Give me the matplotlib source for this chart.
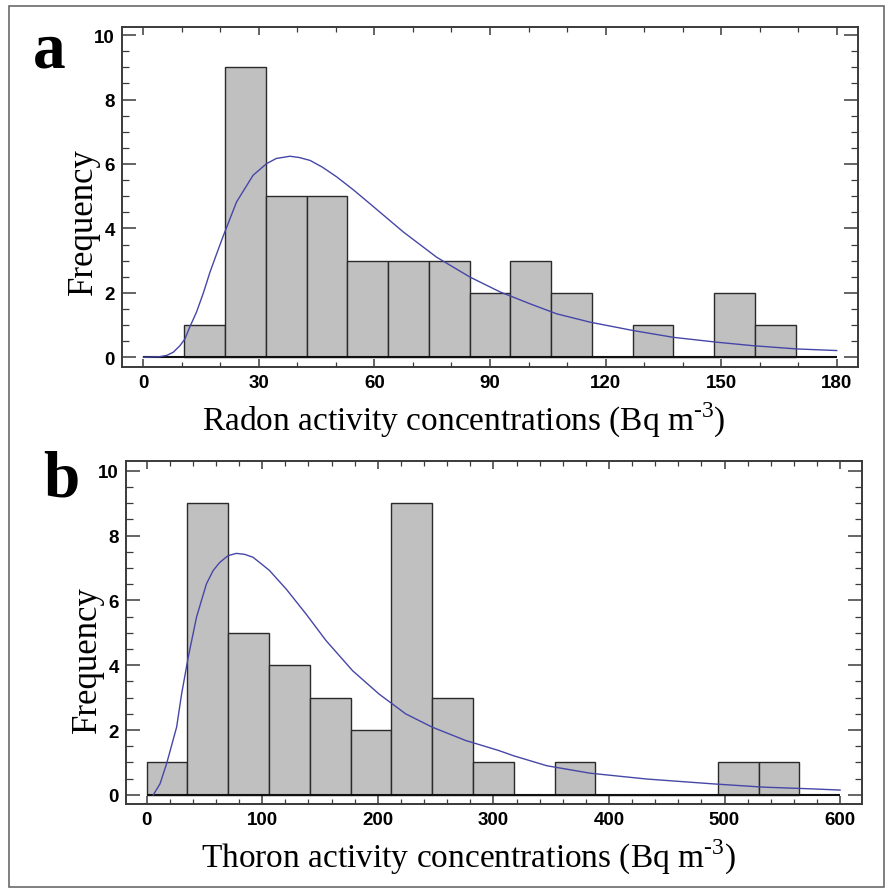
import numpy as np
import matplotlib
matplotlib.use("Agg")
import matplotlib.pyplot as plt
from matplotlib.patches import Rectangle
from matplotlib.ticker import MultipleLocator

# ---------------- data ----------------
radon_edges = [10.6, 21.2, 31.8, 42.4, 52.9, 63.5, 74.1, 84.7, 95.3, 105.9,
               116.5, 127.1, 137.6, 148.2, 158.8, 169.4]
radon_counts = [1, 9, 5, 5, 3, 3, 3, 2, 3, 2, 0, 1, 0, 2, 1]
radon_fit_x = [0, 4.3, 6.1, 7.8, 9.5, 10.8, 12.1, 13.8, 15.6, 17.3, 19.0, 20.8,
               24.2, 28.5, 32.0, 34.5, 38.1, 40.5, 43.3, 46.5, 50.2, 54.5, 58.8,
               67.5, 76.1, 84.8, 92.6, 100.4, 107.3, 116.0,
               127.2, 137.6, 148.8, 158.3, 169.6, 180.0]
radon_fit_y = [0, 0.02, 0.06, 0.16, 0.36, 0.57, 0.95, 1.40, 2.00, 2.64, 3.20, 3.78,
               4.82, 5.65, 6.01, 6.17, 6.24, 6.20, 6.11, 5.90, 5.60, 5.20, 4.77,
               3.89, 3.11, 2.49, 2.03, 1.66, 1.35, 1.09,
               0.83, 0.62, 0.47, 0.36, 0.26, 0.21]
radon_xticks = [0, 30, 60, 90, 120, 150, 180]

thoron_edges = [0, 35.3, 70.6, 105.9, 141.2, 176.5, 211.8, 247.1, 282.4, 317.7,
                353.0, 388.3, 423.6, 458.9, 494.2, 529.5, 564.8]
thoron_counts = [1, 9, 5, 4, 3, 2, 9, 3, 1, 0, 1, 0, 0, 0, 1, 1]
thoron_fit_x = [5.7, 11.5, 17.2, 25.9, 30.2, 35.9, 43.1, 51.7, 57.5, 63.2, 70.4,
                77.6, 84.8, 92.0, 99.1, 106.3, 120.7, 137.9, 155.2, 178.2, 201.1,
                224.1, 247.1, 275.9, 304.6, 317.3, 346.2, 383.7, 432.7, 490.4,
                533.6, 576.9, 600.0]
thoron_fit_y = [0, 0.34, 0.96, 2.09, 3.11, 4.24, 5.48, 6.51, 6.92, 7.17, 7.38,
                7.45, 7.42, 7.33, 7.13, 6.92, 6.35, 5.58, 4.76, 3.83, 3.11,
                2.50, 2.09, 1.68, 1.37, 1.21, 0.90, 0.67, 0.49, 0.34,
                0.24, 0.185, 0.15]
thoron_xticks = [0, 100, 200, 300, 400, 500, 600]

yticks = [0, 2, 4, 6, 8, 10]

# ---------------- style ----------------
plt.rcParams['mathtext.fontset'] = 'custom'
plt.rcParams['mathtext.rm'] = 'Liberation Serif'
SERIF = ['Liberation Serif', 'DejaVu Serif']
TICKFONT = ['Liberation Sans Narrow', 'Liberation Sans', 'DejaVu Sans']
BAR_FC = '#c0c0c0'
BAR_EC = '#2a2a2a'
CURVE_C = '#4646a8'
SPINE_C = '#3a3a3a'

W, H = 890, 895
fig = plt.figure(figsize=(W / 100, H / 100), dpi=100)
fig.patch.set_facecolor('white')


def px_axes(l, t, r, b):
    return fig.add_axes([l / W, 1 - b / H, (r - l) / W, (b - t) / H])


def style_axes(ax, xmaj, xmin, xticks):
    for s in ax.spines.values():
        s.set_color(SPINE_C)
        s.set_linewidth(1.4)
    ax.xaxis.set_major_locator(MultipleLocator(xmaj))
    ax.xaxis.set_minor_locator(MultipleLocator(xmin))
    ax.yaxis.set_major_locator(MultipleLocator(2))
    ax.yaxis.set_minor_locator(MultipleLocator(0.5))
    ax.tick_params(axis='x', which='major', direction='in', length=6, width=1.1,
                   top=True, bottom=True, pad=5, color=SPINE_C)
    ax.tick_params(axis='x', which='minor', direction='in', length=3.5, width=0.9,
                   top=True, bottom=True, color=SPINE_C)
    ax.tick_params(axis='y', which='major', direction='in', length=10, width=1.1,
                   left=True, right=True, pad=5, color=SPINE_C)
    ax.tick_params(axis='y', which='minor', direction='in', length=5, width=0.9,
                   left=True, right=True, color=SPINE_C)
    ax.set_xticks(xticks)
    ax.set_yticks(yticks)
    for lab in ax.get_xticklabels() + ax.get_yticklabels():
        lab.set_family(TICKFONT)
        lab.set_fontweight('bold')
        lab.set_fontsize(13.5)


def panel(ax, edges, counts, fx, fy, xticks, xlim, ylim, xmaj, xmin, xlabel,
          lab_x, lab_y):
    edges = np.asarray(edges)
    ax.bar(edges[:-1], counts, width=np.diff(edges), align='edge',
           color=BAR_FC, edgecolor=BAR_EC, linewidth=1.0, zorder=2)
    ax.hlines(0, xticks[0], xticks[-1], color='#111111', linewidth=1.5, zorder=3)
    ax.plot(fx, fy, color=CURVE_C, linewidth=1.0, zorder=4)
    ax.set_xlim(*xlim)
    ax.set_ylim(*ylim)
    style_axes(ax, xmaj, xmin, xticks)
    ax.text(lab_x, -0.152, xlabel, transform=ax.transAxes, ha='center',
            va='center', family=SERIF, fontsize=24)
    ax.text(-0.053, lab_y, 'Frequency', transform=ax.transAxes, ha='center',
            va='center', rotation=90, family=SERIF, fontsize=25)


ax_a = px_axes(122, 27.7, 858, 368.3)
panel(ax_a, radon_edges, radon_counts, radon_fit_x, radon_fit_y, radon_xticks,
      (-5.53, 185.53), (-0.31, 10.26), 30, 10,
      r'Radon activity concentrations (Bq m$^{\text{-}\mathregular{3}}$)', 0.464, 0.43)

ax_b = px_axes(126, 462.3, 861.7, 805)
panel(ax_b, thoron_edges, thoron_counts, thoron_fit_x, thoron_fit_y, thoron_xticks,
      (-17.9, 618.7), (-0.28, 10.29), 100, 20,
      r'Thoron activity concentrations (Bq m$^{\text{-}\mathregular{3}}$)', 0.465, 0.423)

fig.text(33 / W, 1 - 68 / H, 'a', family=SERIF, fontweight='bold', fontsize=47,
         ha='left', va='baseline')
fig.text(43 / W, 1 - 497 / H, 'b', family=SERIF, fontweight='bold', fontsize=47,
         ha='left', va='baseline')

fig.add_artist(Rectangle((9 / W, 1 - 888 / H), (884 - 9) / W, (888 - 7) / H,
                         transform=fig.transFigure, fill=False,
                         edgecolor='#6a6a6a', linewidth=1.2))

fig.savefig('out.png', dpi=100, facecolor='white')
